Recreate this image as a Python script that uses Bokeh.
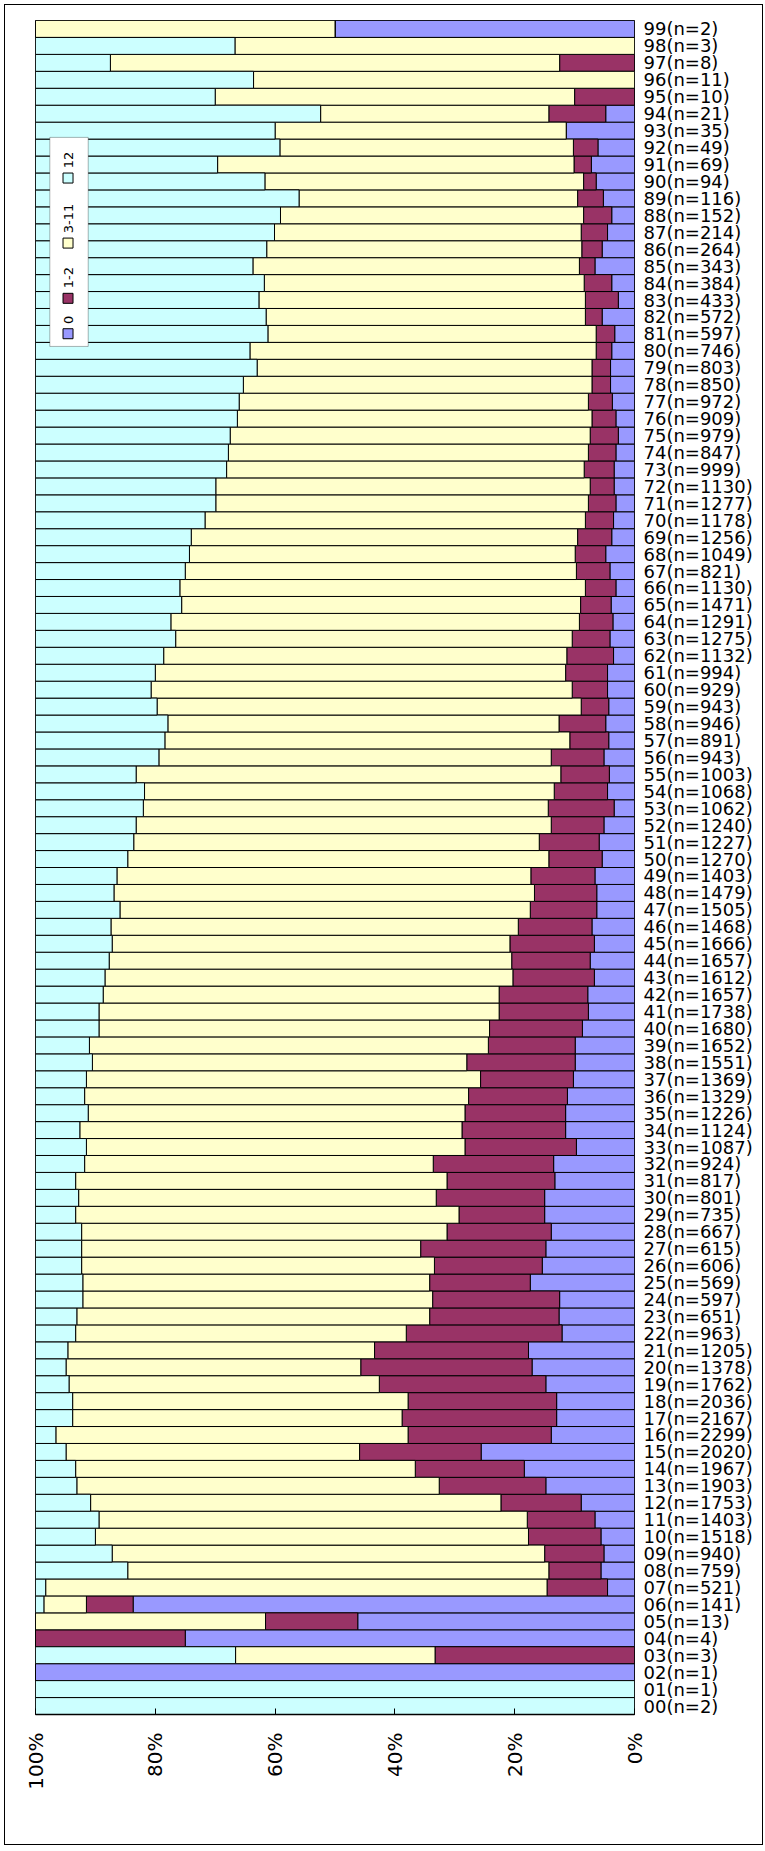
import math
from bokeh.plotting import figure
from bokeh.models import Range1d, FactorRange, FixedTicker, BoxAnnotation, Label, ColumnDataSource
from bokeh.embed import file_html
from bokeh.resources import INLINE

# ---------------- data (rows 00 .. 99) ----------------
codes = ["%02d" % i for i in range(100)]
counts = [2, 1, 1, 3, 4, 13, 141, 521, 759, 940,
          1518, 1403, 1753, 1903, 1967, 2020, 2299, 2167, 2036, 1762,
          1378, 1205, 963, 651, 597, 569, 606, 615, 667, 735,
          801, 817, 924, 1087, 1124, 1226, 1329, 1369, 1551, 1652,
          1680, 1738, 1657, 1612, 1657, 1666, 1468, 1505, 1479, 1403,
          1270, 1227, 1240, 1062, 1068, 1003, 943, 891, 946, 943,
          929, 994, 1132, 1275, 1291, 1471, 1130, 821, 1049, 1256,
          1178, 1277, 1130, 999, 847, 979, 909, 972, 850, 803,
          746, 597, 572, 433, 384, 343, 264, 214, 152, 116,
          94, 69, 49, 35, 21, 10, 11, 8, 3, 2]

# percent shares of each class
share_0 = [0, 0, 100, 0, 75, 46.2, 83.7, 4.5, 5.6, 5.1,
           5.6, 6.6, 8.9, 14.8, 18.4, 25.6, 13.9, 13.0, 13.0, 14.8,
           17.1, 17.7, 12.1, 12.6, 12.5, 17.4, 15.4, 14.8, 13.9, 15.0,
           15.0, 13.3, 13.5, 9.7, 11.5, 11.5, 11.2, 10.2, 9.9, 9.9,
           8.7, 7.7, 7.8, 6.7, 7.4, 6.7, 7.1, 6.3, 6.3, 6.6,
           5.4, 5.9, 5.1, 3.4, 4.5, 4.2, 5.1, 4.3, 4.8, 4.3,
           4.5, 4.5, 3.5, 4.1, 3.6, 3.9, 3.1, 4.1, 4.8, 3.8,
           3.5, 3.1, 3.4, 3.4, 3.1, 2.7, 3.1, 3.7, 4.0, 4.0,
           3.8, 3.3, 5.4, 2.7, 3.8, 6.6, 5.4, 4.5, 3.8, 5.2,
           6.4, 7.2, 6.1, 11.4, 4.8, 0, 0, 0, 0, 50]
share_1_2 = [0, 0, 0, 33.3, 25, 15.4, 7.8, 10.1, 8.7, 9.9,
             12.1, 11.3, 13.4, 17.8, 18.2, 20.3, 23.9, 25.8, 24.8, 27.8,
             28.6, 25.7, 26.0, 21.6, 21.2, 16.8, 18.0, 20.9, 17.4, 14.3,
             18.1, 18.0, 20.1, 18.6, 17.3, 16.8, 16.5, 15.5, 18.1, 14.5,
             15.5, 14.9, 14.8, 13.6, 13.1, 14.1, 12.3, 11.1, 10.4, 10.7,
             8.9, 10.0, 8.8, 11.0, 8.9, 8.1, 8.8, 6.5, 7.8, 4.6,
             5.9, 7.0, 7.8, 6.3, 5.6, 5.1, 5.1, 5.6, 5.1, 5.7,
             4.7, 4.6, 4.0, 5.0, 4.6, 4.7, 4.0, 4.0, 3.1, 3.1,
             2.6, 3.1, 2.8, 5.5, 4.6, 2.6, 3.4, 4.4, 4.7, 4.3,
             2.1, 2.9, 4.1, 0, 9.5, 10, 0, 12.5, 0, 0]
share_3_11 = [0, 0, 0, 33.3, 0, 38.4, 7.1, 83.7, 70.3, 72.2,
              72.3, 71.5, 68.5, 60.5, 56.7, 49.0, 58.8, 55.0, 56.0, 51.8,
              49.2, 51.2, 55.2, 58.9, 58.4, 57.9, 58.9, 56.6, 61.0, 64.0,
              59.7, 62.0, 58.2, 63.2, 63.8, 62.9, 64.1, 65.8, 62.5, 66.6,
              65.2, 66.8, 66.1, 68.1, 67.2, 66.4, 68.0, 68.5, 70.2, 69.1,
              70.3, 67.7, 69.3, 67.6, 68.4, 70.9, 65.5, 67.6, 65.3, 70.8,
              70.3, 68.5, 67.3, 66.2, 68.2, 66.6, 67.7, 65.3, 64.4, 64.5,
              63.5, 62.2, 62.5, 59.7, 60.1, 60.1, 59.2, 58.3, 58.2, 55.9,
              57.8, 54.8, 53.3, 54.5, 53.4, 54.5, 52.6, 51.2, 50.6, 46.5,
              53.2, 59.5, 49.0, 48.6, 38.1, 60, 63.6, 75, 66.7, 50]
share_12 = [100, 100, 0, 33.4, 0, 0, 1.4, 1.7, 15.4, 12.8,
            10.0, 10.6, 9.2, 6.9, 6.7, 5.1, 3.4, 6.2, 6.2, 5.6,
            5.1, 5.4, 6.7, 6.9, 7.9, 7.9, 7.7, 7.7, 7.7, 6.7,
            7.2, 6.7, 8.2, 8.5, 7.4, 8.8, 8.2, 8.5, 9.5, 9.0,
            10.6, 10.6, 11.3, 11.6, 12.3, 12.8, 12.6, 14.1, 13.1, 13.6,
            15.4, 16.4, 16.8, 18.0, 18.2, 16.8, 20.6, 21.6, 22.1, 20.3,
            19.3, 20.0, 21.4, 23.4, 22.6, 24.4, 24.1, 25.0, 25.7, 26.0,
            28.3, 30.1, 30.1, 31.9, 32.2, 32.5, 33.7, 34.0, 34.7, 37.0,
            35.8, 38.8, 38.5, 37.3, 38.2, 36.3, 38.6, 39.9, 40.9, 44.0,
            38.3, 30.4, 40.8, 40.0, 47.6, 30, 36.4, 12.5, 33.3, 0]

series_names = ["0", "1-2", "3-11", "12"]
series_colors = ["#9999FF", "#993366", "#FFFFCC", "#CCFFFF"]
x_ticks = [0, 20, 40, 60, 80, 100]
x_tick_labels = ["0%", "20%", "40%", "60%", "80%", "100%"]

# ---------------- figure ----------------
row_labels = ["%s(n=%d)" % (c, n) for c, n in zip(codes, counts)]
src = ColumnDataSource(dict(cat=row_labels, s0=share_0, s1=share_1_2,
                            s2=share_3_11, s3=share_12))

p = figure(width=759, height=1841,
           x_range=Range1d(100, 0), y_range=FactorRange(factors=row_labels),
           y_axis_location="right", output_backend="svg", toolbar_location=None,
           min_border_left=30, min_border_right=130, min_border_top=15,
           min_border_bottom=132)
p.styles = {"border": "1px solid black", "margin": "4px 0px 4px 4px"}
p.background_fill_color = "white"
p.border_fill_color = "white"
p.outline_line_color = "black"
p.outline_line_width = 1
p.xgrid.visible = False
p.ygrid.visible = False

p.hbar_stack(["s0", "s1", "s2", "s3"], y="cat", height=1.0, source=src,
             fill_color=series_colors, line_color="black", line_width=1)

# x axis
xa = p.xaxis[0]
xa.ticker = FixedTicker(ticks=x_ticks)
xa.major_label_overrides = {t: l for t, l in zip(x_ticks, x_tick_labels)}
xa.major_label_orientation = math.pi / 2
xa.major_label_text_font = "DejaVu Sans"
xa.major_label_text_font_size = "20px"
xa.major_label_text_color = "black"
xa.major_label_standoff = 18
xa.major_tick_in = 6
xa.major_tick_out = 0
xa.major_tick_line_color = "black"
xa.minor_tick_line_color = None
xa.axis_line_color = "black"
xa.axis_line_width = 1.5

# y axis (right)
ya = p.yaxis[0]
ya.axis_line_color = None
ya.major_tick_line_color = None
ya.major_tick_out = 0
ya.major_tick_in = 0
ya.minor_tick_line_color = None
ya.major_label_text_font = "DejaVu Sans"
ya.major_label_text_font_size = "18px"
ya.major_label_text_color = "black"
ya.major_label_standoff = 9

# ---------------- legend (rotated, drawn by hand) ----------------
legend_box = BoxAnnotation(left=97.61, right=91.20, top=93.10, bottom=80.76,
                           fill_color="white", fill_alpha=1.0,
                           line_color="black", line_width=1)
p.add_layout(legend_box)
legend_x = 94.57
legend_sq_y = [81.51, 83.60, 86.86, 90.70]
legend_txt_y = [82.09, 84.19, 87.44, 91.28]
p.scatter(x=[legend_x] * 4, y=legend_sq_y, marker="square", size=10,
          fill_color=series_colors, line_color="black", line_width=1,
          level="overlay")
for name, ty in zip(series_names, legend_txt_y):
    p.add_layout(Label(x=legend_x, y=ty, text=name, angle=math.pi / 2,
                       text_align="left", text_baseline="middle",
                       text_font="DejaVu Sans", text_font_size="13px",
                       text_color="black", level="overlay"))

open("out.html", "w").write(file_html(p, INLINE))
